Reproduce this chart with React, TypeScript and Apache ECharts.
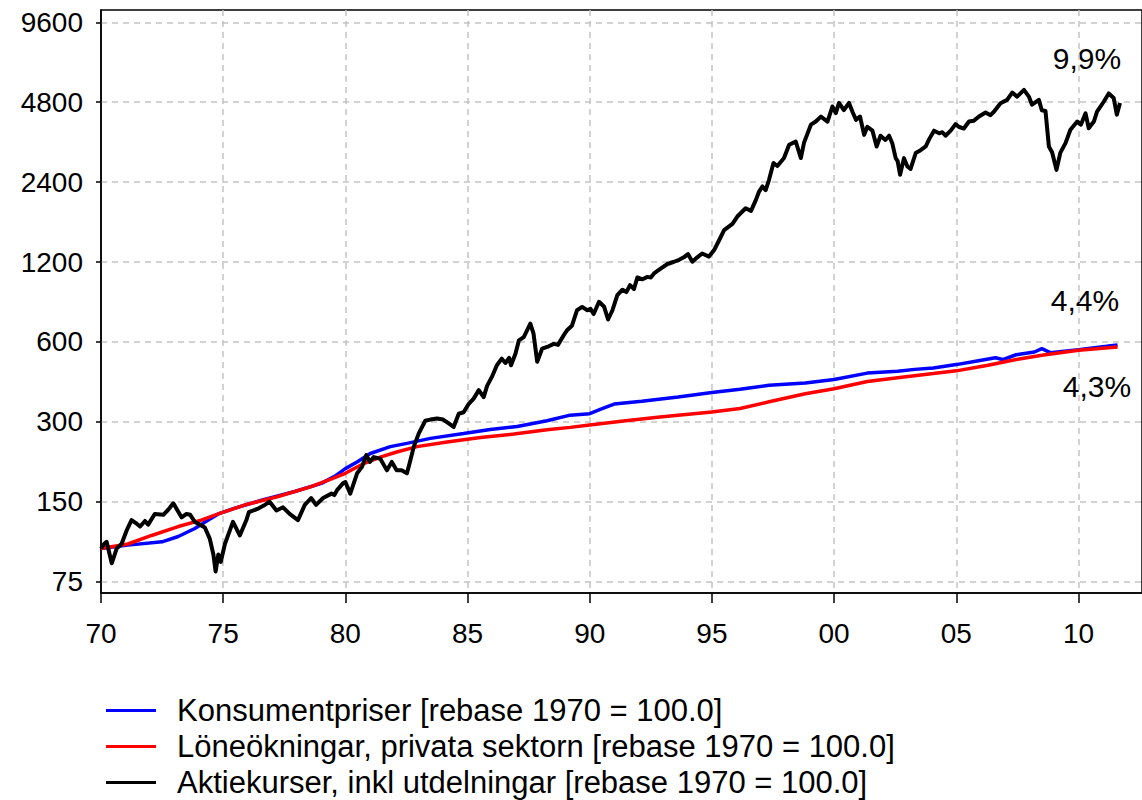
import React, { useEffect, useRef } from "react";
import * as echarts from "echarts";

// Aktiekurser, inkl utdelningar (rebase 1970 = 100)
const stockYears = [
  1970.0, 1970.12, 1970.23, 1970.44, 1970.64, 1970.84, 1971.05, 1971.25, 1971.46, 1971.6,
  1971.8, 1971.93, 1972.2, 1972.55, 1972.75, 1972.96, 1973.3, 1973.5, 1973.65, 1973.84,
  1973.98, 1974.25, 1974.45, 1974.6, 1974.69, 1974.8, 1974.9, 1975.07, 1975.4, 1975.68,
  1975.95, 1976.05, 1976.4, 1976.7, 1976.9, 1977.18, 1977.45, 1977.72, 1978.06, 1978.34,
  1978.6, 1978.8, 1979.09, 1979.43, 1979.55, 1979.66, 1979.9, 1980.0, 1980.2, 1980.48,
  1980.68, 1980.86, 1981.0, 1981.16, 1981.43, 1981.7, 1981.9, 1982.1, 1982.3, 1982.52,
  1982.66, 1982.8, 1983.0, 1983.27, 1983.48, 1983.75, 1984.0, 1984.23, 1984.43, 1984.64,
  1984.84, 1985.05, 1985.25, 1985.46, 1985.66, 1985.8, 1986.0, 1986.2, 1986.4, 1986.55,
  1986.7, 1986.78, 1986.96, 1987.1, 1987.3, 1987.57, 1987.7, 1987.85, 1988.05, 1988.32,
  1988.53, 1988.7, 1988.93, 1989.07, 1989.27, 1989.48, 1989.69, 1989.9, 1990.03, 1990.16,
  1990.38, 1990.59, 1990.75, 1990.93, 1991.13, 1991.34, 1991.5, 1991.65, 1991.81, 1991.95,
  1992.16, 1992.36, 1992.5, 1992.63, 1992.9, 1993.18, 1993.45, 1993.66, 1993.85, 1994.02,
  1994.2, 1994.4, 1994.6, 1994.88, 1995.09, 1995.3, 1995.5, 1995.84, 1996.04, 1996.38,
  1996.6, 1996.8, 1996.93, 1997.07, 1997.2, 1997.34, 1997.52, 1997.68, 1997.95, 1998.16,
  1998.43, 1998.64, 1998.77, 1999.05, 1999.25, 1999.46, 1999.73, 1999.93, 2000.07, 2000.2,
  2000.4, 2000.61, 2000.75, 2000.9, 2001.06, 2001.23, 2001.36, 2001.57, 2001.74, 2001.9,
  2002.1, 2002.25, 2002.38, 2002.52, 2002.6, 2002.7, 2002.86, 2003.0, 2003.13, 2003.34,
  2003.54, 2003.75, 2003.88, 2004.09, 2004.3, 2004.43, 2004.56, 2004.77, 2004.97, 2005.1,
  2005.31, 2005.52, 2005.72, 2005.93, 2006.2, 2006.4, 2006.54, 2006.81, 2007.08, 2007.29,
  2007.49, 2007.77, 2007.97, 2008.1, 2008.38, 2008.5, 2008.65, 2008.79, 2008.92, 2009.1,
  2009.26, 2009.47, 2009.67, 2009.95, 2010.1, 2010.29, 2010.42, 2010.63, 2010.76, 2011.04,
  2011.24, 2011.44, 2011.57, 2011.7,
];
const stockValues = [
  100, 104, 106, 88, 100, 104, 117, 128, 124, 121,
  127, 123, 135, 134, 140, 148, 131, 135, 134, 126,
  124, 120, 109, 95, 82, 95, 89, 104, 126, 112,
  128, 137, 141, 146, 150, 139, 143, 135, 128, 146,
  155, 146, 155, 161, 159, 166, 176, 178, 161, 192,
  203, 225, 212, 221, 218, 197, 212, 197, 197, 192,
  215, 242, 271, 303, 306, 309, 306, 296, 287, 322,
  326, 351, 367, 395, 372, 410, 444, 490, 519, 500,
  523, 490, 542, 608, 626, 703, 645, 505, 566, 578,
  590, 585, 635, 664, 690, 790, 813, 790, 800, 765,
  850, 814, 729, 790, 900, 944, 925, 982, 950, 1050,
  1033, 1055, 1050, 1087, 1133, 1180, 1203, 1224, 1250, 1286,
  1203, 1250, 1293, 1258, 1331, 1453, 1583, 1671, 1781, 1914,
  1870, 2058, 2212, 2312, 2240, 2454, 2833, 2760, 2958, 3320,
  3414, 2958, 3380, 3950, 4060, 4237, 4060, 4625, 4370, 4770,
  4480, 4770, 4420, 4120, 4240, 3617, 3880, 3750, 3270, 3590,
  3460, 3590, 3365, 2955, 2880, 2560, 2955, 2750, 2690, 3090,
  3165, 3270, 3470, 3750, 3665, 3700, 3590, 3750, 3970, 3880,
  3820, 4060, 4090, 4240, 4390, 4290, 4420, 4760, 4900, 5220,
  5040, 5340, 5040, 4700, 4900, 4480, 4450, 3270, 3110, 2670,
  3100, 3365, 3780, 4060, 3950, 4360, 3830, 4060, 4420, 4830,
  5180, 4980, 4310, 4770,
];

// Konsumentpriser (rebase 1970 = 100)
const cpiYears = [
  1970.0, 1971.1, 1972.5, 1973.16, 1973.84, 1974.39, 1974.8, 1975.48, 1976.57, 1977.93,
  1979.02, 1979.56, 1980.0, 1980.48, 1981.02, 1981.84, 1982.52, 1983.48, 1984.84, 1985.93,
  1987.03, 1988.25, 1989.2, 1990.0, 1990.43, 1990.64, 1991.0, 1992.13, 1993.62, 1995.0,
  1996.15, 1997.34, 1998.82, 2000.0, 2001.36, 2002.6, 2003.3, 2004.06, 2005.0, 2005.85,
  2006.6, 2006.9, 2007.45, 2008.2, 2008.5, 2008.85, 2010.0, 2011.15, 2011.6,
];
const cpiValues = [
  100, 103, 106, 111, 119, 128, 135, 142, 152, 164,
  176, 187, 200, 212, 228, 242, 249, 260, 271, 281,
  288, 303, 318, 322, 334, 340, 350, 359, 372, 387,
  398, 412, 420, 433, 458, 465, 473, 479, 493, 509,
  523, 515, 537, 550, 566, 547, 561, 578, 585,
];

// Löneökningar, privata sektorn (rebase 1970 = 100)
const wageYears = [
  1970.0, 1971.1, 1972.07, 1973.16, 1974.1, 1974.8, 1975.9, 1977.25, 1978.6, 1979.3,
  1980.0, 1980.75, 1981.43, 1982.1, 1982.93, 1984.16, 1985.53, 1986.9, 1988.25, 1989.2,
  1990.0, 1991.38, 1992.87, 1995.0, 1996.15, 1997.34, 1998.82, 2000.0, 2001.36, 2002.6,
  2004.06, 2005.0, 2006.3, 2007.45, 2008.5, 2010.0, 2011.6,
];
const wageValues = [
  100, 104, 112, 121, 128, 135, 146, 157, 171, 181,
  192, 209, 221, 231, 242, 252, 262, 270, 280, 286,
  292, 302, 313, 327, 337, 357, 383, 400, 426, 440,
  456, 467, 490, 515, 535, 558, 574,
];

const seriesNames = [
  "Konsumentpriser [rebase 1970 = 100.0]",
  "Löneökningar, privata sektorn [rebase 1970 = 100.0]",
  "Aktiekurser, inkl utdelningar [rebase 1970 = 100.0]",
];
const seriesColors = ["#0000ff", "#ff0000", "#000000"];
const annotations = ["9,9%", "4,4%", "4,3%"];

const yBase = 75; // lowest tick label, ticks double upward
const xMin = 1970;
const xMax = 2012.6;
const yMinT = -0.1414;
const yMaxT = 7.154;

const FONT = "'Liberation Sans', Arial, Helvetica, sans-serif";

function toLog(years: number[], values: number[]) {
  return years.map((y, i) => [y, Math.log2(values[i] / yBase)]);
}

export default function App() {
  const ref = useRef<HTMLDivElement>(null);
  useEffect(() => {
    if (!ref.current) return;
    const chart = echarts.init(ref.current, null, { renderer: "svg" });
    const gridLineStyle = { color: "#c4c4c4", width: 1.5, type: [6, 5] as any };
    const option: any = {
      animation: false,
      backgroundColor: "#ffffff",
      textStyle: { fontFamily: FONT },
      grid: {
        left: 101,
        right: -2,
        top: 10,
        bottom: 207,
        show: true,
        borderColor: "#000",
        borderWidth: 1.5,
        containLabel: false,
      },
      xAxis: {
        type: "value",
        min: xMin,
        max: xMax,
        interval: 5,
        axisLine: { show: true, onZero: false, lineStyle: { color: "#000", width: 1.5 } },
        axisTick: { show: true, length: 10, lineStyle: { color: "#000", width: 1.5 } },
        axisLabel: {
          showMaxLabel: false,
          margin: 26,
          color: "#000",
          fontSize: 28,
          fontFamily: FONT,
          formatter: (v: number) => String(Math.round(v) % 100).padStart(2, "0"),
        },
        splitLine: { show: true, showMinLine: false, showMaxLine: false, lineStyle: gridLineStyle },
      },
      yAxis: {
        type: "value",
        min: yMinT,
        max: yMaxT,
        splitNumber: 7,
        axisLine: { show: true, onZero: false, lineStyle: { color: "#000", width: 1.5 } },
        axisTick: { show: true, length: 5, lineStyle: { color: "#000", width: 1.5 } },
        axisLabel: {
          showMinLabel: false,
          showMaxLabel: false,
          margin: 18,
          color: "#000",
          fontSize: 28,
          fontFamily: FONT,
          formatter: (v: number) => String(Math.round(yBase * Math.pow(2, v))),
        },
        splitLine: { show: true, showMinLine: false, showMaxLine: false, lineStyle: gridLineStyle },
      },
      legend: {
        orient: "vertical",
        left: 106,
        top: 695,
        width: 900,
        height: 105,
        padding: 0,
        itemGap: 5,
        itemWidth: 50,
        itemHeight: 3,
        icon: "rect",
        textStyle: {
          fontSize: 31,
          lineHeight: 31,
          color: "#000",
          fontFamily: FONT,
          padding: [0, 0, 0, 16],
        },
        data: seriesNames,
      },
      series: [
        {
          name: seriesNames[0],
          type: "line",
          data: toLog(cpiYears, cpiValues),
          symbol: "none",
          color: seriesColors[0],
          lineStyle: { width: 3.5, color: seriesColors[0] },
          z: 2,
        },
        {
          name: seriesNames[1],
          type: "line",
          data: toLog(wageYears, wageValues),
          symbol: "none",
          color: seriesColors[1],
          lineStyle: { width: 3.5, color: seriesColors[1] },
          z: 3,
        },
        {
          name: seriesNames[2],
          type: "line",
          data: toLog(stockYears, stockValues),
          symbol: "none",
          color: seriesColors[2],
          lineStyle: { width: 4, color: seriesColors[2], join: "round" },
          z: 4,
        },
      ],
      graphic: [
        { type: "text", x: 1087, y: 58, style: { text: annotations[0], font: `30px ${FONT}`, fill: "#000", textAlign: "center", textVerticalAlign: "middle" } },
        { type: "text", x: 1085, y: 300, style: { text: annotations[1], font: `30px ${FONT}`, fill: "#000", textAlign: "center", textVerticalAlign: "middle" } },
        { type: "text", x: 1097, y: 386, style: { text: annotations[2], font: `30px ${FONT}`, fill: "#000", textAlign: "center", textVerticalAlign: "middle" } },
      ],
    };
    chart.setOption(option);
    return () => chart.dispose();
  }, []);
  return (
    <div
      ref={ref}
      style={{ position: "fixed", left: 0, top: 0, width: 1142, height: 800, background: "#fff" }}
    />
  );
}
